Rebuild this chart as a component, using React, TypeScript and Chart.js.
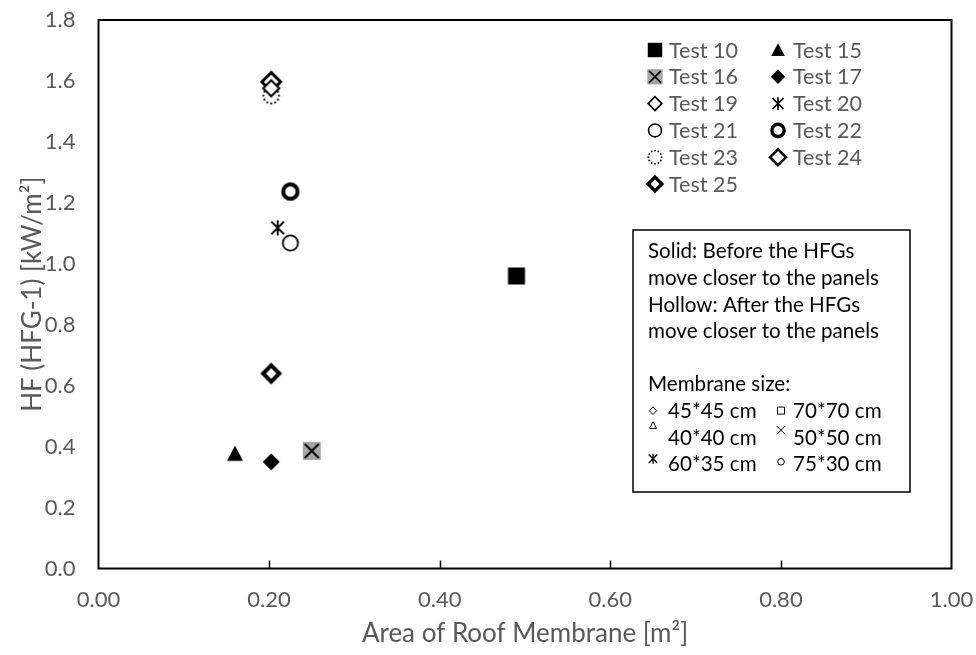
import React, { useEffect, useRef } from 'react';
import { Chart, registerables } from 'chart.js';

Chart.register(...registerables);

// ---------------- data ----------------
const seriesNames = ['Test 10', 'Test 15', 'Test 16', 'Test 17', 'Test 19', 'Test 20', 'Test 21', 'Test 22', 'Test 23', 'Test 24', 'Test 25'];
const membraneArea = [0.49, 0.16, 0.25, 0.2025, 0.2025, 0.21, 0.225, 0.225, 0.2025, 0.2025, 0.2025];
const heatFlux = [0.96, 0.377, 0.386, 0.35, 1.576, 1.118, 1.068, 1.237, 1.552, 1.597, 0.64];
const xTickLabels = ['0.00', '0.20', '0.40', '0.60', '0.80', '1.00'];
const yTickLabels = ['0.0', '0.2', '0.4', '0.6', '0.8', '1.0', '1.2', '1.4', '1.6', '1.8'];
const xAxisTitle = 'Area of Roof Membrane [m²]';
const yAxisTitle = 'HF (HFG-1) [kW/m²]';
const noteLines = ['Solid: Before the HFGs', 'move closer to the panels', 'Hollow: After the HFGs', 'move closer to the panels', '', 'Membrane size:'];
const sizeLabels = ['45*45 cm', '70*70 cm', '40*40 cm', '50*50 cm', '60*35 cm', '75*30 cm'];

// ---------------- styles ----------------
type Spec = { shape: string; r: number; fill?: string; stroke?: string; lw?: number };
const markerSpecs: Spec[] = [
  { shape: 'rect', r: 8.5, fill: '#000' },
  { shape: 'tri', r: 8, fill: '#000' },
  { shape: 'xrect', r: 9, fill: '#a6a6a6', stroke: '#000', lw: 2 },
  { shape: 'diamond', r: 8.5, fill: '#000' },
  { shape: 'diamond', r: 9.5, fill: '#fff', stroke: '#000', lw: 2 },
  { shape: 'ast', r: 7.5, stroke: '#000', lw: 2 },
  { shape: 'circle', r: 8.5, fill: '#fff', stroke: '#000', lw: 1.8 },
  { shape: 'circle', r: 9.2, fill: '#fff', stroke: '#000', lw: 4 },
  { shape: 'dots', r: 9, fill: '#000' },
  { shape: 'diamond', r: 11.5, fill: '#fff', stroke: '#000', lw: 3 },
  { shape: 'diamond', r: 11, fill: '#fff', stroke: '#000', lw: 4 },
];
const sizeSymbols: Spec[] = [
  { shape: 'diamond', r: 4.5, stroke: '#000', lw: 1 },
  { shape: 'rect', r: 4, stroke: '#000', lw: 1 },
  { shape: 'tri', r: 4.5, stroke: '#000', lw: 1 },
  { shape: 'x', r: 4, stroke: '#000', lw: 1 },
  { shape: 'ast', r: 5, stroke: '#000', lw: 1.3 },
  { shape: 'circle', r: 3.8, stroke: '#000', lw: 1 },
];

const FONT = 'Lato, "Open Sans", sans-serif';
const GRAY = '#595959';

function drawShape(g: CanvasRenderingContext2D, s: Spec, cx: number, cy: number, k = 1) {
  const r = s.r * k;
  const lw = (s.lw || 0) * k;
  g.save();
  g.lineJoin = 'miter';
  g.lineWidth = lw;
  if (s.stroke) g.strokeStyle = s.stroke;
  if (s.fill) g.fillStyle = s.fill;
  const fs = () => {
    if (s.fill) g.fill();
    if (s.stroke && lw > 0) g.stroke();
  };
  switch (s.shape) {
    case 'rect': {
      const h = s.stroke ? r - lw / 2 : r;
      g.beginPath();
      g.rect(cx - h, cy - h, 2 * h, 2 * h);
      fs();
      break;
    }
    case 'tri': {
      const h = s.stroke ? r - lw : r;
      g.beginPath();
      g.moveTo(cx, cy - h);
      g.lineTo(cx + h, cy + h * 0.9);
      g.lineTo(cx - h, cy + h * 0.9);
      g.closePath();
      fs();
      break;
    }
    case 'xrect': {
      g.beginPath();
      g.rect(cx - r, cy - r, 2 * r, 2 * r);
      g.fill();
      const d = r - 2 * k;
      g.beginPath();
      g.moveTo(cx - d, cy - d);
      g.lineTo(cx + d, cy + d);
      g.moveTo(cx + d, cy - d);
      g.lineTo(cx - d, cy + d);
      g.stroke();
      break;
    }
    case 'diamond': {
      const h = s.stroke ? r - lw * 0.72 : r;
      g.beginPath();
      g.moveTo(cx, cy - h);
      g.lineTo(cx + h, cy);
      g.lineTo(cx, cy + h);
      g.lineTo(cx - h, cy);
      g.closePath();
      fs();
      break;
    }
    case 'circle': {
      const h = s.stroke ? r - lw / 2 : r;
      g.beginPath();
      g.arc(cx, cy, h, 0, Math.PI * 2);
      fs();
      break;
    }
    case 'x': {
      g.beginPath();
      g.moveTo(cx - r, cy - r);
      g.lineTo(cx + r, cy + r);
      g.moveTo(cx + r, cy - r);
      g.lineTo(cx - r, cy + r);
      g.stroke();
      break;
    }
    case 'ast': {
      const w = r * 0.85;
      g.beginPath();
      g.moveTo(cx, cy - r);
      g.lineTo(cx, cy + r);
      g.moveTo(cx - w, cy - w);
      g.lineTo(cx + w, cy + w);
      g.moveTo(cx + w, cy - w);
      g.lineTo(cx - w, cy + w);
      g.stroke();
      break;
    }
    case 'dots': {
      const n = 12;
      const rr = r - 1.2 * k;
      for (let i = 0; i < n; i++) {
        const a = (i / n) * Math.PI * 2;
        g.beginPath();
        g.arc(cx + rr * Math.cos(a), cy + rr * Math.sin(a), 1.1 * k, 0, Math.PI * 2);
        g.fill();
      }
      break;
    }
  }
  g.restore();
}

function makeMarker(s: Spec): HTMLCanvasElement {
  const size = 28;
  const c = document.createElement('canvas');
  c.width = size;
  c.height = size;
  const g = c.getContext('2d') as CanvasRenderingContext2D;
  drawShape(g, s, size / 2, size / 2);
  return c;
}

const decorPlugin = {
  id: 'decor',
  beforeDatasetsDraw(chart: any) {
    const { ctx, chartArea: a, scales } = chart;
    const xs = scales.x;
    ctx.save();
    ctx.strokeStyle = '#000';
    ctx.lineWidth = 1.5;
    xs.ticks.forEach((t: any, i: number) => {
      if (i === 0 || i === xs.ticks.length - 1) return;
      const px = Math.round(xs.getPixelForValue(t.value)) + 0.5;
      ctx.beginPath();
      ctx.moveTo(px, a.bottom);
      ctx.lineTo(px, a.bottom - 8);
      ctx.stroke();
    });
    ctx.lineWidth = 2;
    ctx.strokeRect(a.left, a.top, a.right - a.left, a.bottom - a.top);
    ctx.restore();
  },
  afterDraw(chart: any) {
    const { ctx, chartArea: a } = chart;
    ctx.save();
    // axis titles
    ctx.fillStyle = GRAY;
    ctx.font = `26px ${FONT}`;
    ctx.textAlign = 'center';
    ctx.textBaseline = 'middle';
    ctx.fillText(xAxisTitle, (a.left + a.right) / 2, 634);
    ctx.save();
    ctx.translate(33, (a.top + a.bottom) / 2);
    ctx.rotate(-Math.PI / 2);
    ctx.fillText(yAxisTitle, 0, 0);
    ctx.restore();

    // legend (2 columns)
    ctx.font = `21.5px ${FONT}`;
    ctx.textAlign = 'left';
    ctx.textBaseline = 'alphabetic';
    const colMarker = [655, 778];
    const colText = [669, 793];
    seriesNames.forEach((name, i) => {
      const row = Math.floor(i / 2);
      const col = i % 2;
      const cy = 50 + row * 26.8;
      drawShape(ctx, markerSpecs[i], colMarker[col], cy, 0.85);
      ctx.fillStyle = GRAY;
      ctx.fillText(name, colText[col], cy + 7.6);
    });

    // note box
    const bx = 633, by = 230, bw = 277, bh = 262;
    ctx.fillStyle = '#fff';
    ctx.fillRect(bx, by, bw, bh);
    ctx.strokeStyle = '#000';
    ctx.lineWidth = 1.5;
    ctx.strokeRect(bx, by, bw, bh);
    ctx.font = `20.6px ${FONT}`;
    ctx.fillStyle = '#000';
    noteLines.forEach((line, i) => {
      ctx.fillText(line, 648, 251 + i * 26.6 + 7.4);
    });
    const symX = [653, 781];
    const txtX = [668, 793];
    const symDy = [0, 0, -12, -7, -5, -2];
    sizeLabels.forEach((lab, i) => {
      const row = Math.floor(i / 2);
      const col = i % 2;
      const cy = 251 + (6 + row) * 26.6;
      drawShape(ctx, sizeSymbols[i], symX[col], cy + symDy[i]);
      ctx.fillStyle = '#000';
      ctx.fillText(lab, txtX[col], cy + 7.4);
    });
    ctx.restore();
  },
};

export default function App() {
  const ref = useRef<HTMLCanvasElement | null>(null);
  useEffect(() => {
    let chart: Chart | null = null;
    let cancelled = false;
    const build = () => {
      if (cancelled || !ref.current) return;
      const markers = markerSpecs.map(makeMarker);
      chart = new Chart(ref.current, {
        type: 'scatter',
        data: {
          datasets: seriesNames.map((name, i) => ({
            label: name,
            data: [{ x: membraneArea[i], y: heatFlux[i] }],
            pointStyle: markers[i] as any,
            pointRadius: 12,
            showLine: false,
          })),
        },
        options: {
          animation: false,
          responsive: true,
          maintainAspectRatio: false,
          events: [],
          layout: { padding: { top: 20, right: 24.5, left: 0, bottom: 0 } },
          plugins: { legend: { display: false }, tooltip: { enabled: false } },
          scales: {
            x: {
              type: 'linear',
              min: 0,
              max: 1,
              ticks: {
                stepSize: 0.2,
                padding: 18,
                color: GRAY,
                font: { family: FONT, size: 22 },
                maxRotation: 0,
                callback: (_v: any, i: number) => xTickLabels[i],
              },
              grid: { display: false, drawTicks: false },
              border: { display: false },
              afterFit: (s: any) => {
                s.height = 86.5;
                s.paddingLeft = 0;
                s.paddingRight = 0;
              },
            },
            y: {
              type: 'linear',
              min: 0,
              max: 1.8,
              ticks: {
                stepSize: 0.2,
                padding: 23,
                color: GRAY,
                font: { family: FONT, size: 22 },
                callback: (_v: any, i: number) => yTickLabels[i],
              },
              grid: { display: false, drawTicks: false },
              border: { display: false },
              afterFit: (s: any) => {
                s.width = 98.5;
                s.paddingTop = 0;
                s.paddingBottom = 0;
              },
            },
          },
        },
        plugins: [decorPlugin],
      });
    };
    const fonts: any = (document as any).fonts;
    if (fonts && fonts.load) {
      Promise.all([fonts.load(`20px Lato`), fonts.load(`26px Lato`)]).then(build, build);
    } else build();
    return () => {
      cancelled = true;
      if (chart) chart.destroy();
    };
  }, []);
  return (
    <div style={{ position: 'absolute', left: 0, top: 0, width: 976, height: 655, background: '#fff' }}>
      <canvas ref={ref} />
    </div>
  );
}
